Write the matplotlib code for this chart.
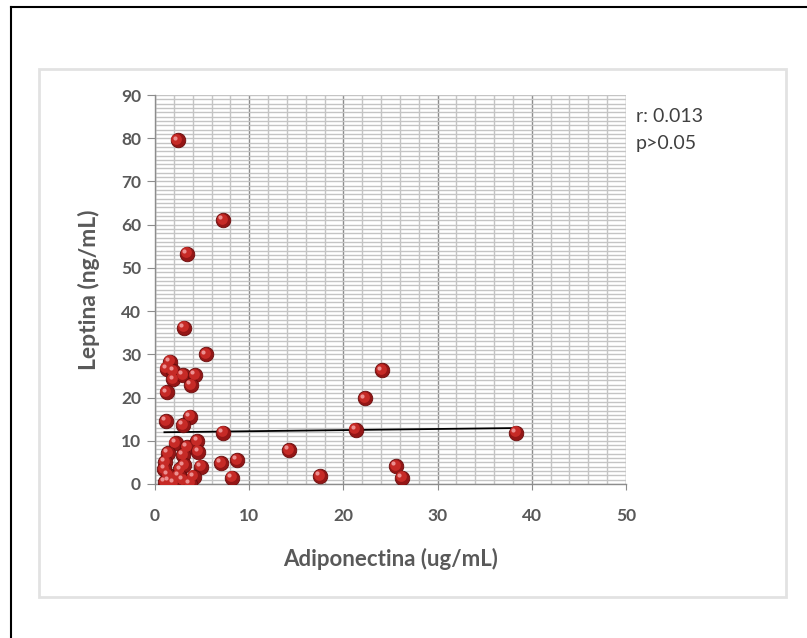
import numpy as np
import matplotlib
matplotlib.use("Agg")
import matplotlib.pyplot as plt
import matplotlib.transforms as mtransforms
from matplotlib.patches import Rectangle
from matplotlib.lines import Line2D
from matplotlib.ticker import MultipleLocator

plt.rcParams['font.family'] = ['Lato', 'DejaVu Sans']

# adiponectina (ug/mL) vs leptina (ng/mL)
adiponectina = [2.4, 7.2, 3.4, 3.1, 5.4, 1.6, 1.24, 1.95, 1.95, 3.0,
                4.25, 3.8, 1.24, 24.1, 22.3, 1.17, 3.7, 3.0, 7.2, 21.3,
                38.3, 2.2, 4.5, 3.4, 4.6, 1.4, 3.0, 14.2, 8.7, 7.0,
                1.06, 4.9, 2.7, 3.1, 1.4, 4.1, 8.2, 17.5, 25.6, 26.2,
                1.06, 3.0, 1.95, 3.7, 1.0, 2.5, 1.5]
leptina = [79.5, 61.1, 53.3, 36.2, 30.0, 28.3, 26.7, 26.2, 24.2, 25.2,
           25.2, 22.9, 21.2, 26.3, 19.8, 14.6, 15.6, 13.6, 11.9, 12.6,
           11.9, 9.5, 10.0, 8.6, 7.5, 7.2, 6.7, 7.9, 5.5, 4.8,
           5.1, 4.0, 3.4, 4.3, 2.1, 1.7, 1.5, 1.85, 4.2, 1.5,
           0.5, 0.9, 0.2, 0.1, 3.5, 1.8, 0.8]

# linear trend as printed on the chart
trend_slope = 0.026
trend_intercept = 11.95

stats_text = ["r: 0.013", "p>0.05"]

grey = '#595959'

fig = plt.figure(figsize=(8.07, 6.38), dpi=100)

# outer frame (left and top edges) and the light chart box
fig.add_artist(Line2D([11/807, 11/807], [0, 1 - 7/638], color='black', lw=1.5,
                      transform=fig.transFigure))
fig.add_artist(Line2D([11/807, 1], [1 - 7/638, 1 - 7/638], color='black', lw=1.5,
                      transform=fig.transFigure))
fig.add_artist(Rectangle((39/807, 41/638), 747/807, 528/638, transform=fig.transFigure,
                         fill=False, edgecolor='#e2e2e2', lw=2))

ax = fig.add_axes([155/807, 154/638, 471/807, 389/638])
ax.set_xlim(0, 50)
ax.set_ylim(0, 90)

ax.xaxis.set_major_locator(MultipleLocator(10))
ax.xaxis.set_minor_locator(MultipleLocator(2))
ax.yaxis.set_major_locator(MultipleLocator(10))
ax.yaxis.set_minor_locator(MultipleLocator(1))

ax.grid(which='major', axis='x', color='#8c8c8c', lw=1.0)
ax.grid(which='minor', axis='x', color='#c4c4c4', lw=1.0)
ax.grid(which='both', axis='y', color='#c4c4c4', lw=1.0)
ax.set_axisbelow(True)

for side in ['top', 'right']:
    ax.spines[side].set_visible(False)
for side in ['left', 'bottom']:
    ax.spines[side].set_color('#8c8c8c')
    ax.spines[side].set_linewidth(1.0)

ax.tick_params(which='minor', length=0)
ax.tick_params(axis='y', which='major', length=6, color='#8c8c8c', pad=4,
               labelsize=12.5, labelcolor=grey)
ax.tick_params(axis='x', which='major', length=4, color='#8c8c8c', pad=13,
               labelsize=12.5, labelcolor=grey)
for lab in ax.get_xticklabels() + ax.get_yticklabels():
    lab.set_fontweight('bold')

ax.set_xlabel("Adiponectina (ug/mL)", fontsize=16, fontweight='bold', color=grey)
ax.set_ylabel("Leptina (ng/mL)", fontsize=16.5, fontweight='bold', color=grey)
ax.xaxis.set_label_coords(0.5, -0.165)
ax.yaxis.set_label_coords(-0.117, 0.5)

x = np.array(adiponectina)
y = np.array(leptina)

# shaded spheres: dark base, lighter body, small highlight
ax.scatter(x, y, s=110, color='#941616', edgecolors='#6a0c0c', linewidths=0.6, zorder=3)
body = mtransforms.offset_copy(ax.transData, fig=fig, x=-0.9, y=0.9, units='points')
ax.scatter(x, y, s=60, color='#c62a26', linewidths=0, zorder=4, transform=body)
shine = mtransforms.offset_copy(ax.transData, fig=fig, x=-2.0, y=2.0, units='points')
ax.scatter(x, y, s=9, color='#ec9090', linewidths=0, zorder=5, transform=shine)

xt = np.array([x.min(), x.max()])
ax.plot(xt, trend_slope * xt + trend_intercept, color='black', lw=1.3, zorder=2.5)

fig.text(636/807, 1 - 117/638, stats_text[0], fontsize=14, color='#404040', va='center')
fig.text(636/807, 1 - 143/638, stats_text[1], fontsize=14, color='#404040', va='center')

fig.savefig("out.png", dpi=100)
